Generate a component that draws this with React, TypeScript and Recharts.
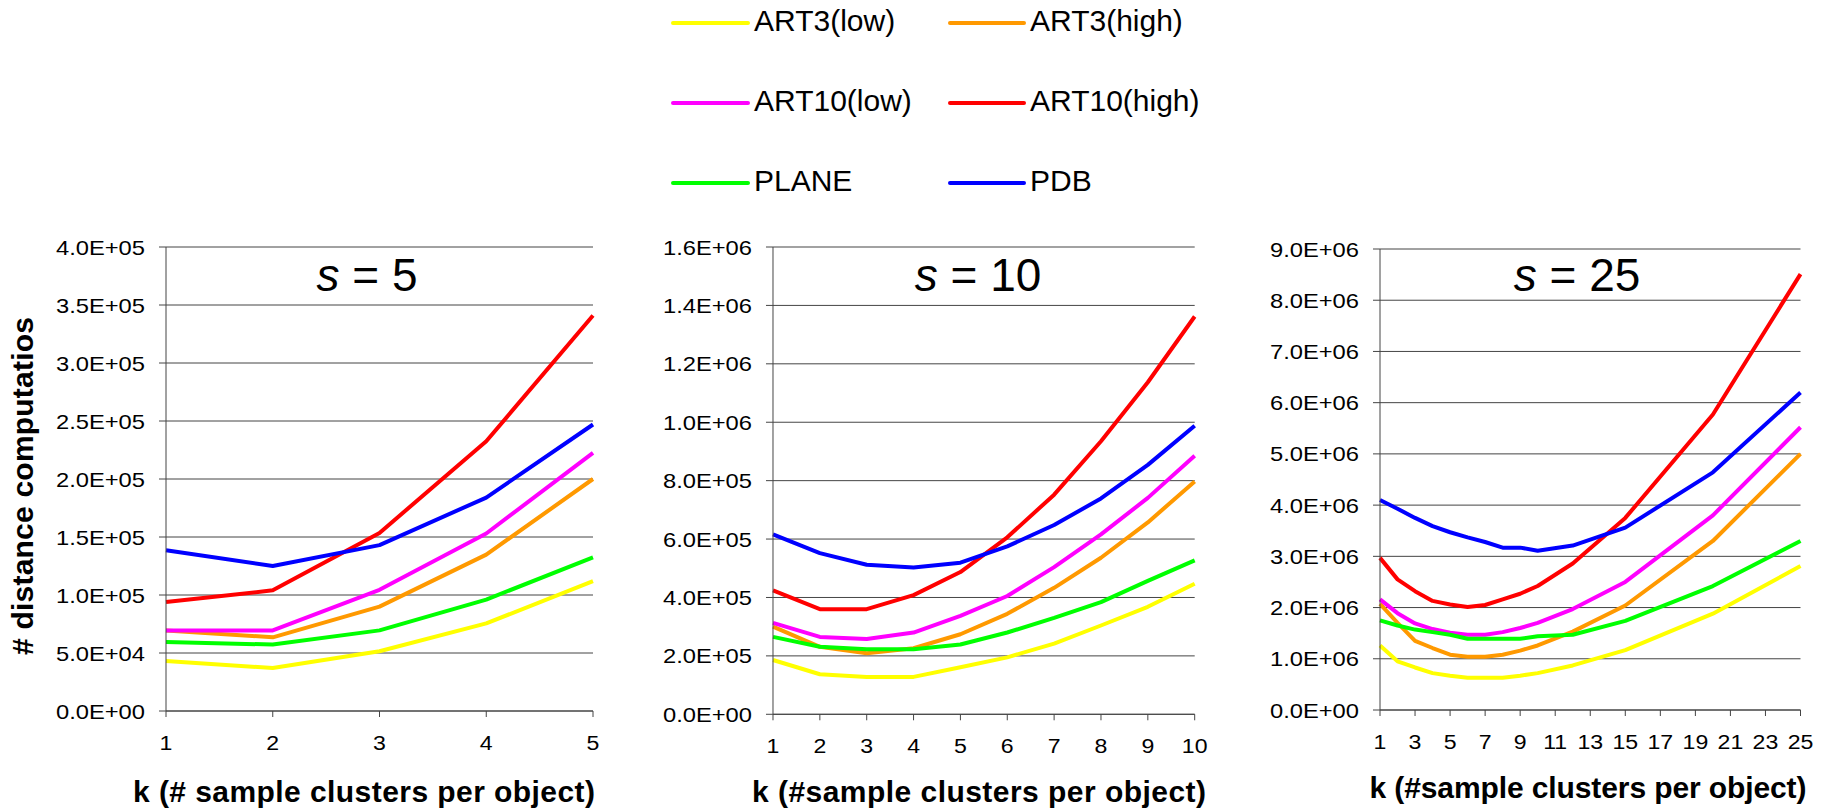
import React from "react";
import { LineChart, Line, XAxis, YAxis, CartesianGrid } from "recharts";

// ---------- data ----------
const seriesNames = ["ART3(low)", "ART3(high)", "ART10(low)", "ART10(high)", "PLANE", "PDB"];
const seriesKeys = ["a3l", "a3h", "a10l", "a10h", "plane", "pdb"];
const seriesColors = ["#FFFF00", "#FF9900", "#FF00FF", "#FF0000", "#00FF00", "#0000FF"];

// s = 5
const kS5 = [1, 2, 3, 4, 5];
const s5Art3Low = [43000, 37000, 51500, 75500, 112000];
const s5Art3High = [69500, 63500, 90000, 134800, 200000];
const s5Art10Low = [69500, 69500, 104500, 153000, 222500];
const s5Art10High = [94000, 104000, 153500, 232500, 341000];
const s5Plane = [59500, 57300, 69500, 96000, 132500];
const s5Pdb = [138600, 125000, 143000, 184000, 247000];
const s5XTicks = [1, 2, 3, 4, 5];
const s5YTicks = [0, 50000, 100000, 150000, 200000, 250000, 300000, 350000, 400000];

// s = 10
const kS10 = [1, 2, 3, 4, 5, 6, 7, 8, 9, 10];
const s10Art3Low = [186000, 137000, 128000, 128000, 161000, 195000, 242000, 304000, 368000, 447000];
const s10Art3High = [300000, 231000, 209000, 226000, 274000, 344000, 433000, 536000, 657000, 797000];
const s10Art10Low = [313000, 265000, 258000, 280000, 337000, 405000, 504000, 616000, 741000, 885000];
const s10Art10High = [424000, 360000, 360000, 408000, 487000, 606000, 752000, 935000, 1137000, 1362000];
const s10Plane = [265000, 231000, 223000, 223000, 239000, 280000, 330000, 384000, 457000, 527000];
const s10Pdb = [616000, 552000, 512000, 503000, 519000, 575000, 648000, 739000, 854000, 988000];
const s10XTicks = [1, 2, 3, 4, 5, 6, 7, 8, 9, 10];
const s10YTicks = [0, 200000, 400000, 600000, 800000, 1000000, 1200000, 1400000, 1600000];

// s = 25
const kS25 = [1, 2, 3, 4, 5, 6, 7, 8, 9, 10, 12, 15, 20, 25];
const s25Art3Low = [1260000, 950000, 830000, 720000, 670000, 630000, 630000, 630000, 670000, 720000, 870000, 1170000, 1880000, 2810000];
const s25Art3High = [2070000, 1700000, 1350000, 1210000, 1080000, 1040000, 1040000, 1080000, 1160000, 1260000, 1530000, 2040000, 3300000, 5000000];
const s25Art10Low = [2160000, 1890000, 1690000, 1580000, 1510000, 1470000, 1470000, 1520000, 1600000, 1700000, 1970000, 2500000, 3800000, 5520000];
const s25Art10High = [2970000, 2550000, 2320000, 2130000, 2060000, 2010000, 2050000, 2160000, 2270000, 2420000, 2860000, 3750000, 5770000, 8510000];
const s25Plane = [1750000, 1650000, 1570000, 1520000, 1470000, 1390000, 1390000, 1390000, 1390000, 1440000, 1470000, 1740000, 2420000, 3300000];
const s25Pdb = [4100000, 3930000, 3750000, 3590000, 3470000, 3370000, 3280000, 3170000, 3170000, 3110000, 3210000, 3560000, 4640000, 6200000];
const s25XTicks = [1, 3, 5, 7, 9, 11, 13, 15, 17, 19, 21, 23, 25];
const s25YTicks = [0, 1000000, 2000000, 3000000, 4000000, 5000000, 6000000, 7000000, 8000000, 9000000];

function buildRows(ks: number[], cols: number[][]) {
  return ks.map((k, i) => {
    const row: Record<string, number> = { k };
    seriesKeys.forEach((key, j) => {
      row[key] = cols[j][i];
    });
    return row;
  });
}

const dataS5 = buildRows(kS5, [s5Art3Low, s5Art3High, s5Art10Low, s5Art10High, s5Plane, s5Pdb]);
const dataS10 = buildRows(kS10, [s10Art3Low, s10Art3High, s10Art10Low, s10Art10High, s10Plane, s10Pdb]);
const dataS25 = buildRows(kS25, [s25Art3Low, s25Art3High, s25Art10Low, s25Art10High, s25Plane, s25Pdb]);

// ---------- helpers ----------
const FONT = "'Liberation Sans', Arial, Helvetica, sans-serif";
const AXIS_COLOR = "#444";

function fmtExp(v: number): string {
  if (v === 0) return "0.0E+00";
  const s = v.toExponential(1); // e.g. "4.0e+5"
  const [m, e] = s.split("e");
  const sign = e[0] === "-" ? "-" : "+";
  const digits = e.replace(/[+-]/, "").padStart(2, "0");
  return `${m}E${sign}${digits}`;
}

function YTick(props: any) {
  const { x, y, payload } = props;
  return (
    <g transform={`translate(${x},${y}) scale(1.13,1)`}>
      <text x={0} y={0} dy="0.36em" textAnchor="end" fontSize={21} fontFamily={FONT} fill="#000">
        {fmtExp(payload.value)}
      </text>
    </g>
  );
}

function XTick(props: any) {
  const { x, y, payload } = props;
  return (
    <g transform={`translate(${x},${y}) scale(1.1,1)`}>
      <text x={0} y={0} dy="0.71em" textAnchor="middle" fontSize={21} fontFamily={FONT} fill="#000">
        {payload.value}
      </text>
    </g>
  );
}

type PanelProps = {
  plotLeft: number;
  plotRight: number;
  plotTop: number;
  plotBottom: number;
  data: Record<string, number>[];
  xDomain: [number, number];
  xTicks: number[];
  yTicks: number[];
};

function Panel({ plotLeft, plotRight, plotTop, plotBottom, data, xDomain, xTicks, yTicks }: PanelProps) {
  const yAxisW = 140;
  const L = plotLeft - yAxisW;
  const T = plotTop - 10;
  const W = plotRight - L + 20;
  const H = plotBottom - T + 60;
  return (
    <div style={{ position: "absolute", left: L, top: T }}>
      <LineChart width={W} height={H} data={data} margin={{ top: 10, right: 20, bottom: 0, left: 0 }}>
        <CartesianGrid vertical={false} stroke={AXIS_COLOR} strokeWidth={1} />
        <XAxis
          type="number"
          dataKey="k"
          domain={xDomain}
          ticks={xTicks}
          interval={0}
          height={60}
          tickSize={6}
          tickMargin={18}
          axisLine={{ stroke: AXIS_COLOR, strokeWidth: 1 }}
          tickLine={{ stroke: AXIS_COLOR, strokeWidth: 1 }}
          tick={<XTick />}
        />
        <YAxis
          type="number"
          domain={[0, yTicks[yTicks.length - 1]]}
          ticks={yTicks}
          interval={0}
          width={yAxisW}
          tickSize={7}
          tickMargin={14}
          axisLine={{ stroke: AXIS_COLOR, strokeWidth: 1 }}
          tickLine={{ stroke: AXIS_COLOR, strokeWidth: 1 }}
          tick={<YTick />}
        />
        {seriesKeys.map((key, i) => (
          <Line
            key={key}
            type="linear"
            dataKey={key}
            name={seriesNames[i]}
            stroke={seriesColors[i]}
            strokeWidth={4}
            strokeLinejoin="round"
            dot={false}
            activeDot={false}
            isAnimationActive={false}
          />
        ))}
      </LineChart>
    </div>
  );
}

const legendRows = [
  { y: 23, items: [0, 1] },
  { y: 103, items: [2, 3] },
  { y: 183, items: [4, 5] },
];
const legendCols = [
  { x1: 673, x2: 748, tx: 754 },
  { x1: 950, x2: 1024, tx: 1030 },
];

export default function App() {
  return (
    <div style={{ position: "absolute", left: 0, top: 0, width: 1824, height: 810, background: "#fff", overflow: "hidden" }}>
      <Panel plotLeft={165.7} plotRight={592.7} plotTop={246.7} plotBottom={710.7} data={dataS5} xDomain={[1, 5]} xTicks={s5XTicks} yTicks={s5YTicks} />
      <Panel plotLeft={773.3} plotRight={1195} plotTop={246.7} plotBottom={714} data={dataS10} xDomain={[1, 10]} xTicks={s10XTicks} yTicks={s10YTicks} />
      <Panel plotLeft={1379.5} plotRight={1800} plotTop={249.3} plotBottom={710.3} data={dataS25} xDomain={[1, 25]} xTicks={s25XTicks} yTicks={s25YTicks} />

      <svg width={1824} height={810} style={{ position: "absolute", left: 0, top: 0, pointerEvents: "none" }} fontFamily={FONT}>
        {/* legend */}
        {legendRows.map((row) =>
          row.items.map((idx, c) => (
            <g key={idx}>
              <line x1={legendCols[c].x1} x2={legendCols[c].x2} y1={row.y} y2={row.y} stroke={seriesColors[idx]} strokeWidth={4} strokeLinecap="round" />
              <text x={legendCols[c].tx} y={row.y + 7.5} fontSize={30} fill="#000">
                {seriesNames[idx]}
              </text>
            </g>
          ))
        )}

        {/* panel titles */}
        <text x={367} y={291} fontSize={46} textAnchor="middle" fill="#000">
          <tspan fontStyle="italic">s</tspan> = 5
        </text>
        <text x={978} y={291} fontSize={46} textAnchor="middle" fill="#000">
          <tspan fontStyle="italic">s</tspan> = 10
        </text>
        <text x={1577} y={291} fontSize={46} textAnchor="middle" fill="#000">
          <tspan fontStyle="italic">s</tspan> = 25
        </text>

        {/* axis titles */}
        <text transform="translate(33.3,486) rotate(-90)" textAnchor="middle" fontSize={30} fontWeight="bold" fill="#000" textLength={338}>
          # distance computatios
        </text>
        <text x={364} y={802} textAnchor="middle" fontSize={30} fontWeight="bold" fill="#000" textLength={462}>
          k (# sample clusters per object)
        </text>
        <text x={979} y={802} textAnchor="middle" fontSize={30} fontWeight="bold" fill="#000" textLength={454}>
          k (#sample clusters per object)
        </text>
        <text x={1588} y={798} textAnchor="middle" fontSize={30} fontWeight="bold" fill="#000" textLength={437}>
          k (#sample clusters per object)
        </text>
      </svg>
    </div>
  );
}
